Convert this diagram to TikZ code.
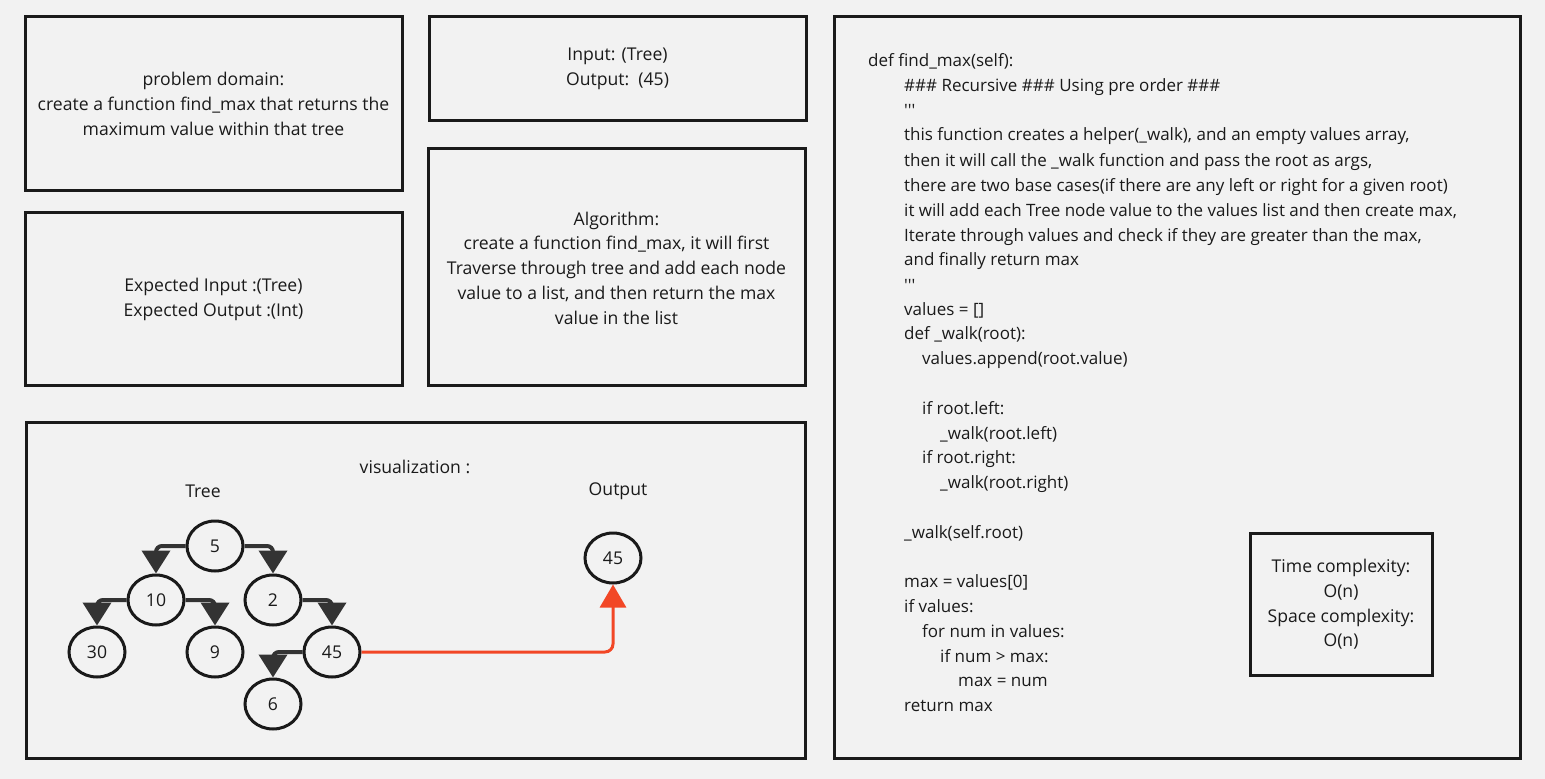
\documentclass[tikz,border=0pt]{standalone}
\usepackage{fontspec}
\setmainfont{Open Sans}
\usetikzlibrary{arrows.meta,shapes.geometric}
\definecolor{bg}{HTML}{F2F2F2}
\definecolor{ink}{HTML}{1A1A1A}
\definecolor{arrowgray}{HTML}{333333}
\definecolor{redline}{HTML}{F24726}
\tikzset{
  box/.style={draw=ink,line width=3pt},
  txt/.style={text=ink,align=center,font=\fontsize{17.6}{24.7}\selectfont,inner sep=0pt},
  codeline/.style={text=ink,anchor=base west,inner sep=0pt,font=\fontsize{17}{24.7}\selectfont},
  tnode/.style={draw=ink,ellipse,line width=3pt,minimum width=56pt,minimum height=50pt,inner sep=0pt,text=ink,font=\fontsize{17.6}{20}\selectfont},
  treearrow/.style={draw=arrowgray,line width=4pt,rounded corners=6pt,-{Triangle[width=28pt,length=23pt]}},
  redarrow/.style={draw=redline,line width=3pt,rounded corners=8pt,-{Triangle[width=26pt,length=23pt]}}
}
\begin{document}
\begin{tikzpicture}[x=1pt,y=-1pt]
\useasboundingbox (0,0) rectangle (1545,779);
\fill[bg] (0,0) rectangle (1545,779);
% boxes
\draw[box] (25,16) rectangle (402,190);
\draw[box] (429,16) rectangle (806,120);
\draw[box] (834,16) rectangle (1520,758);
\draw[box] (25,212) rectangle (402,385);
\draw[box] (428,148) rectangle (805,385);
\draw[box] (26,422) rectangle (805,758);
\draw[box] (1250,533) rectangle (1432,675);
% box texts
\node[txt] (pd) at (213.5,104) {problem domain:\\create a function find\_max that returns the\\maximum value within that tree};
\node[txt] (io) at (617.5,69) {Input: (Tree)\\Output:\ \ (45)};
\node[txt] (exp) at (213.5,299.5) {Expected Input :(Tree)\\Expected Output :(Int)};
\node[txt] (alg) at (616.5,268) {Algorithm:\\create a function find\_max, it will first\\Traverse through tree and add each node\\value to a list, and then return the max\\value in the list};
\node[txt] (cx) at (1341,604.5) {Time complexity:\\O(n)\\Space complexity:\\O(n)};
% visualization labels
\node[txt] (vis) at (415,467) {visualization :};
\node[txt] (treelbl) at (203,491) {Tree};
\node[txt] (outlbl) at (618,491) {Output};
% tree
\node[tnode] (n5) at (215,546) {5};
\node[tnode] (n10) at (156,600) {10};
\node[tnode] (n2) at (273,600) {2};
\node[tnode] (n30) at (97,652) {30};
\node[tnode] (n9) at (215,652) {9};
\node[tnode] (n45) at (332,652) {45};
\node[tnode] (n6) at (273,704) {6};
\node[tnode] (out) at (613,558) {45};
\draw[treearrow] (n5.west) -| (n10.north);
\draw[treearrow] (n5.east) -| (n2.north);
\draw[treearrow] (n10.west) -| (n30.north);
\draw[treearrow] (n10.east) -| (n9.north);
\draw[treearrow] (n2.east) -| (n45.north);
\draw[treearrow] (n45.west) -| (n6.north);
\draw[redarrow] (n45.east) -| (out.south);
% code
\foreach \yy/\xx/\txt [count=\i] in {
 60/868/{def find\_max(self):},
 85/904/{\#\#\# Recursive \#\#\# Using pre order \#\#\#},
 110/904/{\textquotesingle\textquotesingle\textquotesingle},
 134/904/{this function creates a helper(\_walk), and an empty values array,},
 160/904/{then it will call the \_walk function and pass the root as args,},
 185/904/{there are two base cases(if there are any left or right for a given root)},
 210/904/{it will add each Tree node value to the values list and then create max,},
 235/904/{Iterate through values and check if they are greater than the max,},
 259/904/{and finally return max},
 285/904/{\textquotesingle\textquotesingle\textquotesingle},
 309/904/{values = []},
 333/904/{def \_walk(root):},
 358/922/{values.append(root.value)},
 408/922/{if root.left:},
 433/940/{\_walk(root.left)},
 457/922/{if root.right:},
 482/940/{\_walk(root.right)},
 532/904/{\_walk(self.root)},
 581/904/{max = values[0]},
 606/904/{if values:},
 631/922/{for num in values:},
 656/940/{if num > max:},
 680/958/{max = num},
 705/904/{return max}}
{\node[codeline] (code\i) at (\xx,\yy+6) {\txt};}
\end{tikzpicture}
\end{document}
